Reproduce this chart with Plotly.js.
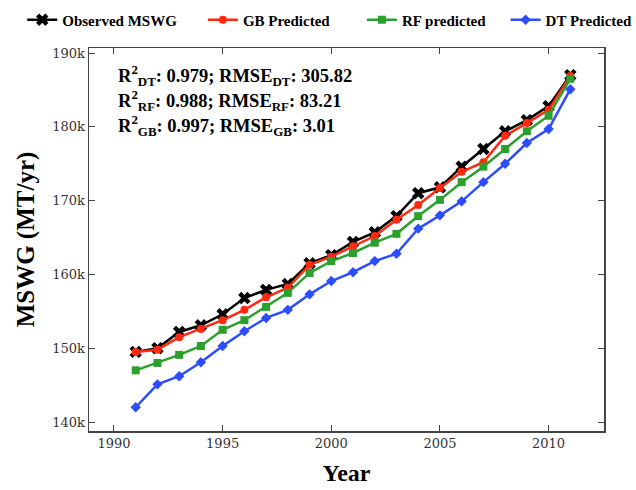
<!DOCTYPE html>
<html>
<head>
<meta charset="utf-8">
<script src="https://cdn.plot.ly/plotly-3.0.1.min.js"></script>
<style>html,body{margin:0;padding:0;background:#fff;}#chart{width:636px;height:490px;}</style>
</head>
<body>
<div id="chart"></div>
<script>
const years = [1991,1992,1993,1994,1995,1996,1997,1998,1999,2000,2001,2002,2003,2004,2005,2006,2007,2008,2009,2010,2011];
const observed = [149.5,150.0,152.2,153.1,154.6,156.8,157.9,158.7,161.5,162.6,164.4,165.7,167.9,171.0,171.8,174.6,177.0,179.4,180.9,182.8,187.0].map(v=>v*1000);
const gbPred = [149.5,149.8,151.5,152.6,153.8,155.2,156.9,158.2,161.3,162.4,163.8,165.2,167.4,169.4,171.7,173.9,175.2,178.8,180.5,182.3,186.9].map(v=>v*1000);
const rfPred = [147.0,148.0,149.1,150.3,152.5,153.8,155.6,157.5,160.2,161.8,162.9,164.3,165.5,167.9,170.1,172.5,174.6,177.0,179.4,181.5,186.5].map(v=>v*1000);
const dtPred = [142.0,145.1,146.2,148.1,150.3,152.3,154.1,155.2,157.3,159.1,160.3,161.8,162.8,166.2,168.0,169.9,172.5,175.0,177.8,179.7,185.1].map(v=>v*1000);
const seriesNames = ['Observed MSWG','GB Predicted','RF predicted','DT Predicted'];
const statLines = [
  'R<sup>2</sup><sub>DT</sub>: 0.979; RMSE<sub>DT</sub>: 305.82',
  'R<sup>2</sup><sub>RF</sub>: 0.988; RMSE<sub>RF</sub>: 83.21',
  'R<sup>2</sup><sub>GB</sub>: 0.997; RMSE<sub>GB</sub>: 3.01'
];

const serif = '"Liberation Serif", "DejaVu Serif", serif';
const traces = [
  {x:years,y:observed,name:seriesNames[0],legend:'legend',mode:'lines+markers',line:{color:'#000000',width:2.5},marker:{symbol:'x',size:11,color:'#000000'}},
  {x:years,y:gbPred,name:seriesNames[1],legend:'legend2',mode:'lines+markers',line:{color:'#ff2a0f',width:2.5},marker:{symbol:'circle',size:8,color:'#ff2a0f'}},
  {x:years,y:rfPred,name:seriesNames[2],legend:'legend3',mode:'lines+markers',line:{color:'#2ca02c',width:2.5},marker:{symbol:'square',size:8,color:'#2ca02c'}},
  {x:years,y:dtPred,name:seriesNames[3],legend:'legend4',mode:'lines+markers',line:{color:'#2b4dff',width:2.5},marker:{symbol:'diamond',size:8,color:'#2b4dff'}}
];
const legX = [0.035,0.319,0.569,0.795];
function leg(x){
  return {orientation:'h',xref:'container',yref:'container',x:x,xanchor:'left',y:0.993,yanchor:'top',
          font:{family:serif,size:15,color:'#000',weight:'bold'},itemwidth:30,bgcolor:'rgba(0,0,0,0)'};
}
const annY = [0.928,0.863,0.798];
const layout = {
  width:636,height:490,
  margin:{l:89,r:32,t:48,b:59},
  paper_bgcolor:'#fff',plot_bgcolor:'#fff',
  showlegend:true,
  legend:leg(legX[0]),legend2:leg(legX[1]),legend3:leg(legX[2]),legend4:leg(legX[3]),
  xaxis:{range:[1988.85,2012.55],tickvals:[1990,1995,2000,2005,2010],ticks:'inside',ticklen:6,tickcolor:'#444',
         showline:true,linecolor:'#444',linewidth:1.5,mirror:'ticks',showgrid:false,zeroline:false,
         tickfont:{family:'"DejaVu Serif", serif',size:13,color:'#333'},
         title:{text:'Year',font:{family:serif,size:24,color:'#000',weight:'bold'},standoff:14}},
  yaxis:{range:[138780,190680],tickvals:[140000,150000,160000,170000,180000,190000],ticktext:['140k','150k','160k','170k','180k','190k'],
         ticks:'inside',ticklen:6,tickcolor:'#444',showline:true,linecolor:'#444',linewidth:1.5,mirror:'ticks',showgrid:false,zeroline:false,
         tickfont:{family:'"DejaVu Serif", serif',size:13,color:'#333'},
         title:{text:'MSWG (MT/yr)',font:{family:serif,size:25,color:'#000',weight:'bold'},standoff:10}},
  annotations: statLines.map((t,i)=>({text:'<b>'+t+'</b>',xref:'paper',yref:'paper',x:0.052,y:annY[i],xanchor:'left',yanchor:'middle',
      showarrow:false,font:{family:serif,size:18.5,color:'#000'}}))
};
Plotly.newPlot('chart',traces,layout,{displayModeBar:false,staticPlot:true});
</script>
</body>
</html>
